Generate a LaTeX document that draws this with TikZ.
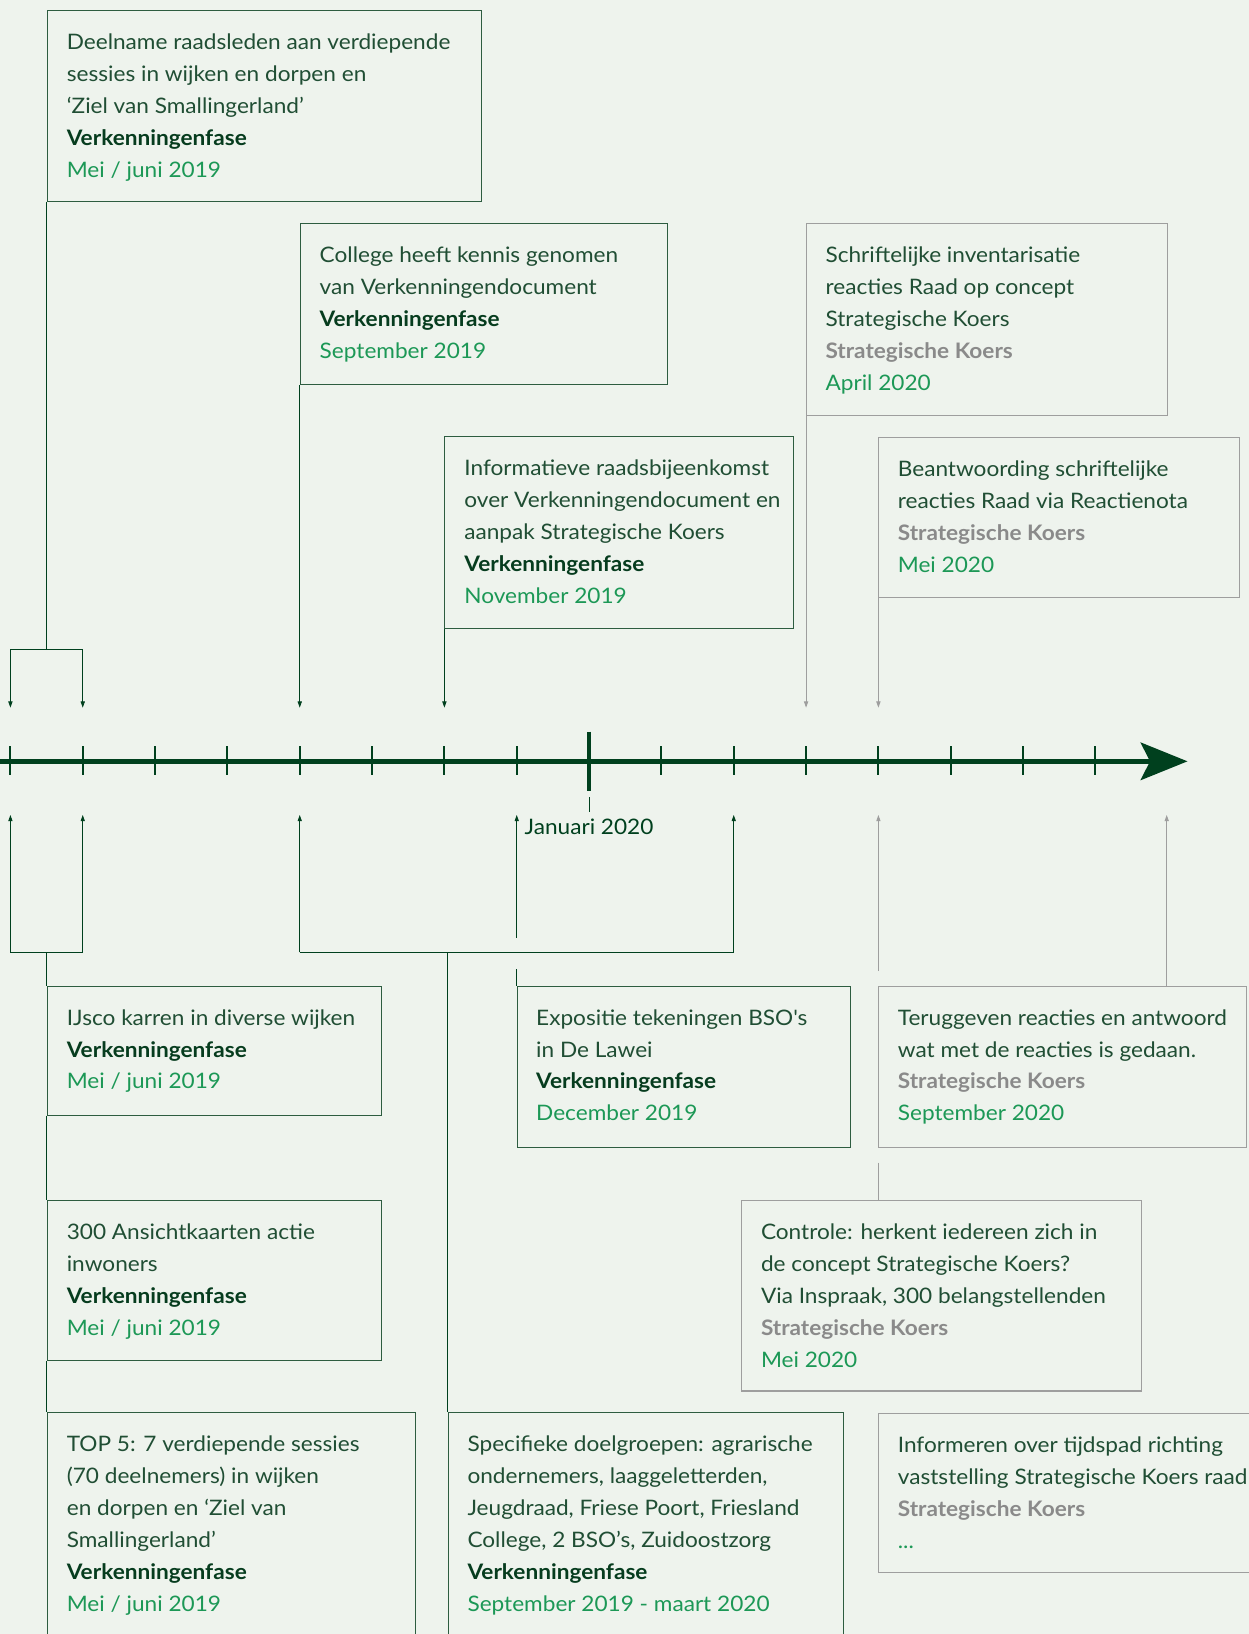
\documentclass[tikz,border=0pt]{standalone}
\usepackage{fontspec}
\setmainfont{Lato}[FakeStretch=1.06]
\usetikzlibrary{arrows.meta,calc}
\definecolor{bgc}{RGB}{238,243,237}
\definecolor{bodyc}{RGB}{32,78,52}
\definecolor{vkc}{RGB}{6,60,30}
\definecolor{datec}{RGB}{28,152,86}
\definecolor{skc}{RGB}{138,138,138}
\definecolor{gborder}{RGB}{45,92,64}
\definecolor{grayb}{RGB}{158,158,158}
\definecolor{linec}{RGB}{0,64,30}
\newcommand\vkf{{\bfseries\color{vkc}Verkenningenfase}}
\newcommand\skf{{\bfseries\color{skc}Strategische Koers}}
\newcommand\dte[1]{{\color{datec}#1}}
\tikzset{
  gbox/.style={draw=gborder, line width=1pt, anchor=north west, inner sep=0pt},
  sbox/.style={draw=grayb, line width=1pt, anchor=north west, inner sep=0pt},
  txt/.style={anchor=north west, inner sep=0pt, align=left, text=bodyc,
    font=\fontsize{20.5}{30.7}\selectfont},
  gline/.style={draw=linec, line width=0.9pt},
  sline/.style={draw=grayb, line width=0.9pt},
  garr/.style={gline, -{Triangle[length=6pt,width=4pt]}},
  sarr/.style={sline, -{Triangle[length=6pt,width=4pt]}},
  tick/.style={draw=linec, line width=2pt},
}
\begin{document}
\begin{tikzpicture}[x=1pt,y=-1pt]
\useasboundingbox (0,0) rectangle (1200,1570);
\fill[bgc] (0,0) rectangle (1200,1570);
\clip (0,0) rectangle (1200,1570);

% timeline
\draw[draw=linec, line width=4.5pt, -{Stealth[length=45pt,width=36pt,inset=9pt]}] (-5,731.5) -- (1141,731.5);
\foreach \i in {0,...,15} {
  \ifnum\i=8\relax
    \draw[draw=linec, line width=3.5pt] ({10+69.5*\i},703) -- ({10+69.5*\i},760);
  \else
    \draw[tick] ({10+69.5*\i},717) -- ({10+69.5*\i},745);
  \fi
}
\draw[draw=linec, line width=0.8pt] (566,766) -- (566,780);
\node[inner sep=0pt, text=linec, font=\fontsize{20.5}{30.7}\selectfont] (jan) at (566,794) {Januari 2020};

% top arrow targets
\foreach \n/\x in {a0/10,a1/79.5,a4/288,a6/427,a11/774.5,a12/844} {\coordinate (\n) at (\x,680);}
% bottom arrow targets
\foreach \n/\x in {b0/10,b1/79.5,b4/288,b7/496.5,b10/705,b12/844,b16/1121} {\coordinate (\n) at (\x,783);}

% ---------- boxes above ----------
\node[gbox, minimum width=417pt, minimum height=183pt] (box1) at (45,10) {};
\node[txt] (t1) at ($(box1.north west)+(19,16.2)$) {\strut Deelname raadsleden aan verdiepende\\sessies in wijken en dorpen en\\‘Ziel van Smallingerland’\\\vkf\\\dte{Mei / juni 2019}};

\node[gbox, minimum width=353pt, minimum height=155pt] (box2) at (288,214) {};
\node[txt] (t2) at ($(box2.north west)+(19,16.2)$) {\strut College heeft kennis genomen\\van Verkenningendocument\\\vkf\\\dte{September 2019}};

\node[gbox, minimum width=335pt, minimum height=184pt] (box3) at (427,419) {};
\node[txt] (t3) at ($(box3.north west)+(19,16.2)$) {\strut Informatieve raadsbijeenkomst\\over Verkenningendocument en\\aanpak Strategische Koers\\\vkf\\\dte{November 2019}};

\node[sbox, minimum width=347pt, minimum height=184pt] (box4) at (774.5,214.5) {};
\node[txt] (t4) at ($(box4.north west)+(18.5,16.2)$) {\strut Schriftelijke inventarisatie\\reacties Raad op concept\\Strategische Koers\\\skf\\\dte{April 2020}};

\node[sbox, minimum width=346pt, minimum height=154pt] (box5) at (844,420) {};
\node[txt] (t5) at ($(box5.north west)+(18.5,16.2)$) {\strut Beantwoording schriftelijke\\reacties Raad via Reactienota\\\skf\\\dte{Mei 2020}};

% ---------- connectors above ----------
\coordinate (jL) at (10,624);
\coordinate (jR) at (79.5,624);
\draw[gline] (box1.south west) -- (box1.south west |- jL);
\draw[gline] (jL) -- (jR);
\draw[garr] (jL) -- (a0);
\draw[garr] (jR) -- (a1);
\draw[garr] (box2.south west) -- (a4);
\draw[garr] (box3.south west) -- (a6);
\draw[sarr] (box4.south west) -- (a11);
\draw[sarr] (box5.south west) -- (a12);

% ---------- boxes below ----------
\node[gbox, minimum width=321pt, minimum height=124pt] (box6) at (45,947) {};
\node[txt] (t6) at ($(box6.north west)+(19,16.2)$) {\strut IJsco karren in diverse wijken\\\vkf\\\dte{Mei / juni 2019}};

\node[gbox, minimum width=320pt, minimum height=155pt] (box7) at (496.5,947) {};
\node[txt] (t7) at ($(box7.north west)+(18.5,16.2)$) {\strut Expositie tekeningen BSO\textquotesingle s\\in De Lawei\\\vkf\\\dte{December 2019}};

\node[sbox, minimum width=353pt, minimum height=155pt] (box8) at (844,947) {};
\node[txt] (t8) at ($(box8.north west)+(18.5,16.2)$) {\strut Teruggeven reacties en antwoord\\wat met de reacties is gedaan.\\\skf\\\dte{September 2020}};

\node[gbox, minimum width=321pt, minimum height=154pt] (box9) at (45,1153) {};
\node[txt] (t9) at ($(box9.north west)+(19,16.2)$) {\strut 300 Ansichtkaarten actie\\inwoners\\\vkf\\\dte{Mei / juni 2019}};

\node[sbox, minimum width=384pt, minimum height=183pt] (box10) at (712,1153) {};
\node[txt] (t10) at ($(box10.north west)+(19,16.2)$) {\strut Controle: herkent iedereen zich in\\de concept Strategische Koers?\\Via Inspraak, 300 belangstellenden\\\skf\\\dte{Mei 2020}};

\node[gbox, minimum width=354pt, minimum height=260pt] (box11) at (45,1357) {};
\node[txt] (t11) at ($(box11.north west)+(19,16.2)$) {\strut TOP 5: 7 verdiepende sessies\\(70 deelnemers) in wijken\\en dorpen en ‘Ziel van\\Smallingerland’\\\vkf\\\dte{Mei / juni 2019}};

\node[gbox, minimum width=380pt, minimum height=260pt] (box12) at (430,1357) {};
\node[txt] (t12) at ($(box12.north west)+(19,16.2)$) {\strut Specifieke doelgroepen: agrarische\\ondernemers, laaggeletterden,\\Jeugdraad, Friese Poort, Friesland\\College, 2 BSO’s, Zuidoostzorg\\\vkf\\\dte{September 2019 - maart 2020}};

\node[sbox, minimum width=380pt, minimum height=153pt] (box13) at (844,1357.5) {};
\node[txt] (t13) at ($(box13.north west)+(18.5,16.2)$) {\strut Informeren over tijdspad richting\\vaststelling Strategische Koers raad\\\skf\\\dte{...}};

% ---------- connectors below ----------
\coordinate (kL) at (10,915);
\coordinate (kR) at (79.5,915);
\coordinate (kM) at (45,915);
\draw[gline] (kL) -- (kR);
\draw[garr] (kL) -- (b0);
\draw[garr] (kR) -- (b1);
\draw[gline] (kM) -- (box6.north west);
\draw[gline] (box6.south west) -- (box9.north west);
\draw[gline] (box9.south west) -- (box11.north west);

\coordinate (mL) at (288,915);
\coordinate (mR) at (705,915);
\coordinate (mM) at (430,915);
\draw[gline] (mL) -- (mR);
\draw[garr] (mL) -- (b4);
\draw[garr] (mR) -- (b10);
\draw[gline] (mM) -- (box12.north west);

\coordinate (e1) at (496.5,931);
\coordinate (e2) at (496.5,901);
\draw[gline] (box7.north west) -- (e1);
\draw[garr] (e2) -- (b7);

\coordinate (s1) at (844,933);
\coordinate (s2) at (844,1117);
\draw[sarr] (s1) -- (b12);
\draw[sarr] (box8.north west -| b16) -- (b16);
\draw[sline] (s2) -- (box10.north west -| s2);
\end{tikzpicture}
\end{document}
